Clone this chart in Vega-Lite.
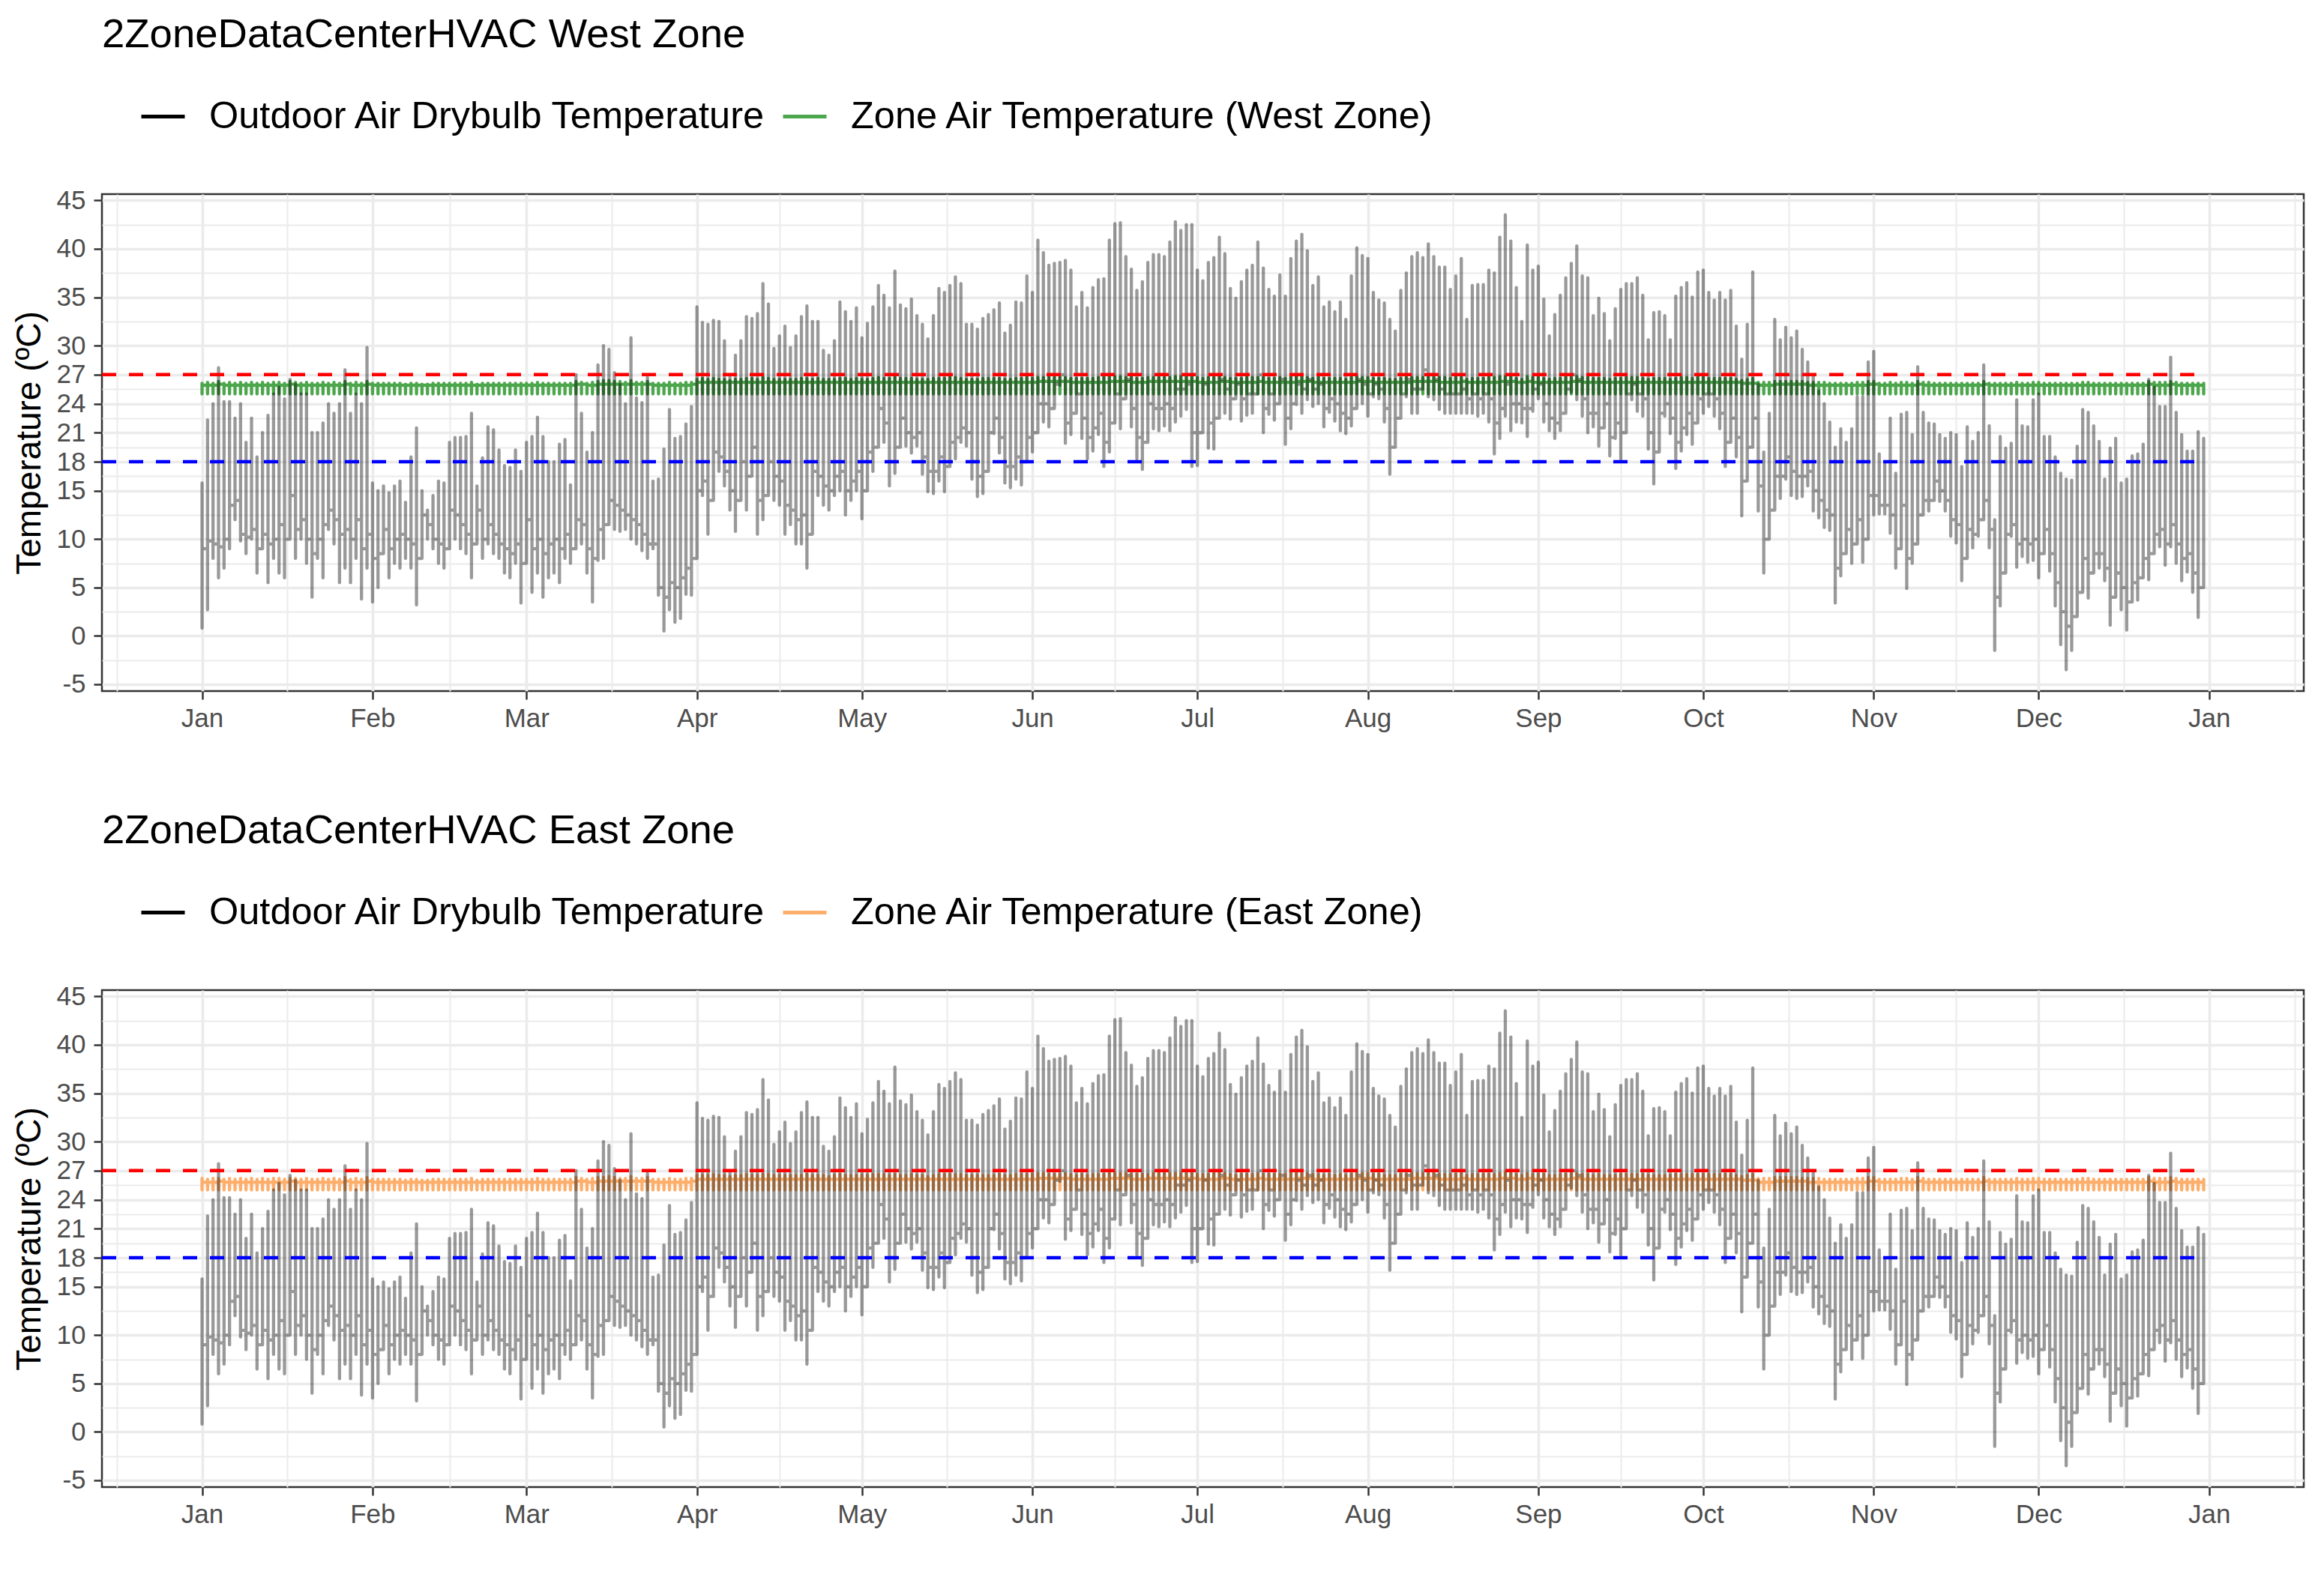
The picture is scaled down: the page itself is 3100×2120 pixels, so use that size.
{
  "$schema": "https://vega.github.io/schema/vega-lite/v6.json",
  "background": "white",
  "padding": {"left": 14, "top": 17, "right": 10, "bottom": 10},
  "config": {
    "font": "Liberation Sans",
    "view": {"stroke": "#333333", "strokeWidth": 2.5},
    "axis": {
      "domain": false,
      "gridColor": "#ebebeb",
      "tickColor": "#333333",
      "tickWidth": 2.5,
      "tickSize": 11,
      "labelColor": "#4d4d4d",
      "labelFont": "Liberation Sans",
      "labelFontSize": 35,
      "labelOverlap": false,
      "titleFont": "Liberation Sans",
      "titleFontSize": 46,
      "titleFontWeight": "normal",
      "titleColor": "black"
    },
    "legend": {
      "orient": "none",
      "legendX": 50,
      "legendY": -135,
      "direction": "horizontal",
      "title": null,
      "symbolType": "stroke",
      "symbolSize": 3364,
      "symbolStrokeWidth": 5,
      "symbolOpacity": 1,
      "labelFont": "Liberation Sans",
      "labelFontSize": 50.5,
      "labelColor": "black",
      "labelOffset": 30,
      "columnPadding": 11,
      "labelLimit": 2000,
      "padding": 0
    },
    "title": {
      "font": "Liberation Sans",
      "fontSize": 54.5,
      "fontWeight": "normal",
      "color": "black",
      "anchor": "start",
      "frame": "group",
      "offset": 50
    }
  },
  "datasets": {
    "hvac": [
{"day":0,"lo":0.8,"hi":15.8,"end":9,"wlo":25,"whi":26.1,"wend":25.9,"elo":25,"ehi":26.2,"eend":25.8},
{"day":1,"lo":2.7,"hi":22.3,"end":9.8,"wlo":25,"whi":26.2,"wend":25.9,"elo":25,"ehi":26.1,"eend":25.8},
{"day":2,"lo":8,"hi":24,"end":9.5,"wlo":25,"whi":26.1,"wend":25.9,"elo":25,"ehi":26.2,"eend":25.8},
{"day":3,"lo":6,"hi":27.7,"end":9.2,"wlo":25,"whi":26.3,"wend":26,"elo":25,"ehi":26.2,"eend":25.9},
{"day":4,"lo":7,"hi":24.2,"end":10,"wlo":25,"whi":26.1,"wend":25.9,"elo":25,"ehi":26.1,"eend":25.8},
{"day":5,"lo":9,"hi":24.2,"end":13.5,"wlo":25,"whi":26.2,"wend":25.9,"elo":25,"ehi":26.2,"eend":25.8},
{"day":6,"lo":12,"hi":22.5,"end":14,"wlo":25,"whi":26.1,"wend":25.9,"elo":25,"ehi":26.1,"eend":25.8},
{"day":7,"lo":9.8,"hi":24,"end":10.5,"wlo":25,"whi":26.2,"wend":25.9,"elo":25,"ehi":26.2,"eend":25.8},
{"day":8,"lo":8.5,"hi":20,"end":10.2,"wlo":25,"whi":26.1,"wend":25.9,"elo":25,"ehi":26.1,"eend":25.8},
{"day":9,"lo":10,"hi":22.5,"end":11,"wlo":25,"whi":26.2,"wend":25.9,"elo":25,"ehi":26.2,"eend":25.8},
{"day":10,"lo":6.5,"hi":18.5,"end":9,"wlo":25,"whi":26.1,"wend":25.9,"elo":25,"ehi":26.1,"eend":25.8},
{"day":11,"lo":9,"hi":21,"end":10.5,"wlo":25,"whi":26.2,"wend":25.9,"elo":25,"ehi":26.2,"eend":25.8},
{"day":12,"lo":5.5,"hi":22.8,"end":9.5,"wlo":25,"whi":26.1,"wend":25.9,"elo":25,"ehi":26.1,"eend":25.8},
{"day":13,"lo":8,"hi":25,"end":10,"wlo":25,"whi":26.2,"wend":25.9,"elo":25,"ehi":26.2,"eend":25.8},
{"day":14,"lo":6.5,"hi":25.7,"end":11.5,"wlo":25,"whi":26.2,"wend":25.9,"elo":25,"ehi":26.2,"eend":25.8},
{"day":15,"lo":6,"hi":24.5,"end":10,"wlo":25,"whi":26.1,"wend":25.9,"elo":25,"ehi":26.1,"eend":25.8},
{"day":16,"lo":11,"hi":26.5,"end":14.5,"wlo":25,"whi":26.3,"wend":26,"elo":25,"ehi":26.2,"eend":25.9},
{"day":17,"lo":8,"hi":26,"end":11,"wlo":25,"whi":26.2,"wend":25.9,"elo":25,"ehi":26.2,"eend":25.8},
{"day":18,"lo":10,"hi":25,"end":12,"wlo":25,"whi":26.1,"wend":25.9,"elo":25,"ehi":26.1,"eend":25.8},
{"day":19,"lo":7.5,"hi":25,"end":10,"wlo":25,"whi":26.2,"wend":25.9,"elo":25,"ehi":26.2,"eend":25.8},
{"day":20,"lo":4,"hi":21,"end":8.5,"wlo":25,"whi":26.1,"wend":25.9,"elo":25,"ehi":26.1,"eend":25.8},
{"day":21,"lo":8,"hi":21,"end":10,"wlo":25,"whi":26.1,"wend":25.9,"elo":25,"ehi":26.1,"eend":25.8},
{"day":22,"lo":6,"hi":22,"end":11.5,"wlo":25,"whi":26.2,"wend":25.9,"elo":25,"ehi":26.2,"eend":25.8},
{"day":23,"lo":11,"hi":24,"end":13,"wlo":25,"whi":26.1,"wend":25.9,"elo":25,"ehi":26.1,"eend":25.8},
{"day":24,"lo":9.5,"hi":23,"end":12,"wlo":25,"whi":26.2,"wend":25.9,"elo":25,"ehi":26.2,"eend":25.8},
{"day":25,"lo":5.5,"hi":24,"end":10.5,"wlo":25,"whi":26.1,"wend":25.9,"elo":25,"ehi":26.1,"eend":25.8},
{"day":26,"lo":7,"hi":27.5,"end":11,"wlo":25,"whi":26.3,"wend":26,"elo":25,"ehi":26.3,"eend":25.9},
{"day":27,"lo":5.5,"hi":23,"end":10,"wlo":25,"whi":26.1,"wend":25.9,"elo":25,"ehi":26.1,"eend":25.8},
{"day":28,"lo":8,"hi":25,"end":12,"wlo":25,"whi":26.2,"wend":25.9,"elo":25,"ehi":26.2,"eend":25.8},
{"day":29,"lo":3.8,"hi":24,"end":9,"wlo":25,"whi":26.1,"wend":25.9,"elo":25,"ehi":26.1,"eend":25.8},
{"day":30,"lo":7,"hi":29.8,"end":10.5,"wlo":25,"whi":26.3,"wend":26,"elo":25,"ehi":26.3,"eend":25.9},
{"day":31,"lo":3.5,"hi":15.8,"end":8,"wlo":25,"whi":26.1,"wend":25.9,"elo":25,"ehi":26.1,"eend":25.8},
{"day":32,"lo":5,"hi":15,"end":8.5,"wlo":25,"whi":26.1,"wend":25.9,"elo":25,"ehi":26.1,"eend":25.8},
{"day":33,"lo":9.5,"hi":15.5,"end":11,"wlo":25,"whi":26.1,"wend":25.9,"elo":25,"ehi":26.1,"eend":25.8},
{"day":34,"lo":6,"hi":14.8,"end":9,"wlo":25,"whi":26.1,"wend":25.9,"elo":25,"ehi":26.1,"eend":25.8},
{"day":35,"lo":7.5,"hi":15.5,"end":10,"wlo":25,"whi":26.1,"wend":25.9,"elo":25,"ehi":26.1,"eend":25.8},
{"day":36,"lo":7,"hi":16,"end":10.5,"wlo":25,"whi":26.1,"wend":25.9,"elo":25,"ehi":26.1,"eend":25.8},
{"day":37,"lo":8,"hi":13.8,"end":10,"wlo":25,"whi":26,"wend":25.9,"elo":25,"ehi":26,"eend":25.8},
{"day":38,"lo":7,"hi":18.5,"end":9.5,"wlo":25,"whi":26.1,"wend":25.9,"elo":25,"ehi":26.1,"eend":25.8},
{"day":39,"lo":3.2,"hi":21.5,"end":8,"wlo":25,"whi":26.1,"wend":25.9,"elo":25,"ehi":26.1,"eend":25.8},
{"day":40,"lo":11,"hi":15,"end":12.5,"wlo":25,"whi":26,"wend":25.9,"elo":25,"ehi":26,"eend":25.8},
{"day":41,"lo":10,"hi":13,"end":11.5,"wlo":25,"whi":26,"wend":25.9,"elo":25,"ehi":26,"eend":25.8},
{"day":42,"lo":9,"hi":14.5,"end":10,"wlo":25,"whi":26.1,"wend":25.9,"elo":25,"ehi":26.1,"eend":25.8},
{"day":43,"lo":7.5,"hi":16,"end":9.5,"wlo":25,"whi":26.1,"wend":25.9,"elo":25,"ehi":26.1,"eend":25.8},
{"day":44,"lo":7,"hi":15.8,"end":9,"wlo":25,"whi":26.1,"wend":25.9,"elo":25,"ehi":26.1,"eend":25.8},
{"day":45,"lo":11.5,"hi":20,"end":13,"wlo":25,"whi":26.1,"wend":25.9,"elo":25,"ehi":26.1,"eend":25.8},
{"day":46,"lo":10,"hi":20.5,"end":12.5,"wlo":25,"whi":26.1,"wend":25.9,"elo":25,"ehi":26.1,"eend":25.8},
{"day":47,"lo":9,"hi":20.5,"end":11.5,"wlo":25,"whi":26.1,"wend":25.9,"elo":25,"ehi":26.1,"eend":25.8},
{"day":48,"lo":8.5,"hi":20.6,"end":10.5,"wlo":25,"whi":26.1,"wend":25.9,"elo":25,"ehi":26.1,"eend":25.8},
{"day":49,"lo":6,"hi":23,"end":9.5,"wlo":25,"whi":26.2,"wend":25.9,"elo":25,"ehi":26.2,"eend":25.8},
{"day":50,"lo":12,"hi":15.5,"end":13,"wlo":25,"whi":26,"wend":25.9,"elo":25,"ehi":26,"eend":25.8},
{"day":51,"lo":8,"hi":18.4,"end":10,"wlo":25,"whi":26.1,"wend":25.9,"elo":25,"ehi":26.1,"eend":25.8},
{"day":52,"lo":9.5,"hi":21.6,"end":11.5,"wlo":25,"whi":26.1,"wend":25.9,"elo":25,"ehi":26.1,"eend":25.8},
{"day":53,"lo":8.5,"hi":21.3,"end":10.5,"wlo":25,"whi":26.1,"wend":25.9,"elo":25,"ehi":26.1,"eend":25.8},
{"day":54,"lo":8,"hi":19.2,"end":9.5,"wlo":25,"whi":26.1,"wend":25.9,"elo":25,"ehi":26.1,"eend":25.8},
{"day":55,"lo":6.5,"hi":17.6,"end":9,"wlo":25,"whi":26.1,"wend":25.9,"elo":25,"ehi":26.1,"eend":25.8},
{"day":56,"lo":6,"hi":17.4,"end":8.5,"wlo":25,"whi":26.1,"wend":25.9,"elo":25,"ehi":26.1,"eend":25.8},
{"day":57,"lo":7.5,"hi":19.2,"end":9.5,"wlo":25,"whi":26.1,"wend":25.9,"elo":25,"ehi":26.1,"eend":25.8},
{"day":58,"lo":3.4,"hi":17,"end":7.5,"wlo":25,"whi":26.1,"wend":25.9,"elo":25,"ehi":26.1,"eend":25.8},
{"day":59,"lo":11,"hi":20,"end":12,"wlo":25,"whi":26.1,"wend":25.9,"elo":25,"ehi":26.1,"eend":25.8},
{"day":60,"lo":4.5,"hi":20.6,"end":9,"wlo":25,"whi":26.1,"wend":25.9,"elo":25,"ehi":26.1,"eend":25.8},
{"day":61,"lo":6.5,"hi":22.6,"end":10,"wlo":25,"whi":26.2,"wend":25.9,"elo":25,"ehi":26.2,"eend":25.8},
{"day":62,"lo":4,"hi":20.6,"end":8.5,"wlo":25,"whi":26.1,"wend":25.9,"elo":25,"ehi":26.1,"eend":25.8},
{"day":63,"lo":6,"hi":18,"end":9.5,"wlo":25,"whi":26.1,"wend":25.9,"elo":25,"ehi":26.1,"eend":25.8},
{"day":64,"lo":6.5,"hi":18,"end":10,"wlo":25,"whi":26.1,"wend":25.9,"elo":25,"ehi":26.1,"eend":25.8},
{"day":65,"lo":5.5,"hi":19.8,"end":9,"wlo":25,"whi":26.1,"wend":25.9,"elo":25,"ehi":26.1,"eend":25.8},
{"day":66,"lo":8,"hi":20.3,"end":10.5,"wlo":25,"whi":26.1,"wend":25.9,"elo":25,"ehi":26.1,"eend":25.8},
{"day":67,"lo":7.5,"hi":15.6,"end":9,"wlo":25,"whi":26.1,"wend":25.9,"elo":25,"ehi":26.1,"eend":25.8},
{"day":68,"lo":10.5,"hi":27,"end":12,"wlo":25,"whi":26.3,"wend":26,"elo":25,"ehi":26.3,"eend":25.9},
{"day":69,"lo":9.5,"hi":23,"end":11.5,"wlo":25,"whi":26.2,"wend":26,"elo":25,"ehi":26.2,"eend":25.9},
{"day":70,"lo":6.5,"hi":19,"end":9,"wlo":25,"whi":26.1,"wend":25.9,"elo":25,"ehi":26.1,"eend":25.8},
{"day":71,"lo":3.5,"hi":21,"end":8,"wlo":25,"whi":26.2,"wend":25.9,"elo":25,"ehi":26.2,"eend":25.8},
{"day":72,"lo":7.8,"hi":28,"end":11,"wlo":25,"whi":26.3,"wend":26,"elo":25,"ehi":26.3,"eend":25.9},
{"day":73,"lo":8,"hi":30,"end":11.5,"wlo":25,"whi":26.4,"wend":26,"elo":25,"ehi":26.3,"eend":25.9},
{"day":74,"lo":12.5,"hi":29.6,"end":14,"wlo":25,"whi":26.4,"wend":26,"elo":25,"ehi":26.4,"eend":25.9},
{"day":75,"lo":11,"hi":27.2,"end":13.5,"wlo":25,"whi":26.3,"wend":26,"elo":25,"ehi":26.3,"eend":25.9},
{"day":76,"lo":10.8,"hi":26,"end":13,"wlo":25,"whi":26.3,"wend":26,"elo":25,"ehi":26.2,"eend":25.9},
{"day":77,"lo":11,"hi":24,"end":12.5,"wlo":25,"whi":26.2,"wend":26,"elo":25,"ehi":26.2,"eend":25.9},
{"day":78,"lo":10,"hi":30.8,"end":12,"wlo":25,"whi":26.4,"wend":26,"elo":25,"ehi":26.4,"eend":25.9},
{"day":79,"lo":9.5,"hi":24.6,"end":11.5,"wlo":25,"whi":26.2,"wend":26,"elo":25,"ehi":26.2,"eend":25.9},
{"day":80,"lo":8.8,"hi":24.1,"end":10.5,"wlo":25,"whi":26.2,"wend":26,"elo":25,"ehi":26.2,"eend":25.9},
{"day":81,"lo":8,"hi":26.7,"end":9.5,"wlo":25,"whi":26.3,"wend":26,"elo":25,"ehi":26.3,"eend":25.9},
{"day":82,"lo":9,"hi":16,"end":9.5,"wlo":25,"whi":26.1,"wend":25.9,"elo":25,"ehi":26.1,"eend":25.8},
{"day":83,"lo":4.2,"hi":16.2,"end":5,"wlo":25,"whi":26.1,"wend":25.9,"elo":25,"ehi":26.1,"eend":25.8},
{"day":84,"lo":0.5,"hi":19.3,"end":4,"wlo":25,"whi":26.1,"wend":25.9,"elo":25,"ehi":26.1,"eend":25.8},
{"day":85,"lo":2.7,"hi":23.4,"end":5.5,"wlo":25,"whi":26.2,"wend":25.9,"elo":25,"ehi":26.2,"eend":25.8},
{"day":86,"lo":1.4,"hi":20.4,"end":5,"wlo":25,"whi":26.1,"wend":25.9,"elo":25,"ehi":26.1,"eend":25.8},
{"day":87,"lo":1.8,"hi":20.6,"end":6,"wlo":25,"whi":26.1,"wend":25.9,"elo":25,"ehi":26.1,"eend":25.8},
{"day":88,"lo":4.3,"hi":21.9,"end":7,"wlo":25,"whi":26.2,"wend":25.9,"elo":25,"ehi":26.2,"eend":25.8},
{"day":89,"lo":4.2,"hi":23.7,"end":8,"wlo":25,"whi":26.2,"wend":26,"elo":25,"ehi":26.2,"eend":25.9},
{"day":90,"lo":13.5,"hi":34,"end":15,"wlo":25,"whi":26.5,"wend":26.2,"elo":25,"ehi":26.5,"eend":26.1},
{"day":91,"lo":14.5,"hi":32.4,"end":16,"wlo":25,"whi":26.6,"wend":26.2,"elo":25,"ehi":26.5,"eend":26.1},
{"day":92,"lo":10.5,"hi":32.2,"end":14,"wlo":25,"whi":26.5,"wend":26.2,"elo":25,"ehi":26.5,"eend":26.1},
{"day":93,"lo":17.5,"hi":32.6,"end":19,"wlo":25,"whi":26.6,"wend":26.2,"elo":25,"ehi":26.6,"eend":26.1},
{"day":94,"lo":17,"hi":32.5,"end":18.5,"wlo":25,"whi":26.5,"wend":26.2,"elo":25,"ehi":26.5,"eend":26.1},
{"day":95,"lo":15.5,"hi":30.5,"end":17,"wlo":25,"whi":26.5,"wend":26.2,"elo":25,"ehi":26.5,"eend":26.1},
{"day":96,"lo":13,"hi":27,"end":15,"wlo":25,"whi":26.4,"wend":26.2,"elo":25,"ehi":26.4,"eend":26.1},
{"day":97,"lo":10.8,"hi":29,"end":14,"wlo":25,"whi":26.5,"wend":26.2,"elo":25,"ehi":26.5,"eend":26.1},
{"day":98,"lo":16,"hi":30.5,"end":18,"wlo":25,"whi":26.5,"wend":26.2,"elo":25,"ehi":26.5,"eend":26.1},
{"day":99,"lo":13,"hi":33,"end":16.5,"wlo":25,"whi":26.6,"wend":26.2,"elo":25,"ehi":26.6,"eend":26.1},
{"day":100,"lo":17.8,"hi":32.8,"end":19.5,"wlo":25,"whi":26.6,"wend":26.2,"elo":25,"ehi":26.5,"eend":26.1},
{"day":101,"lo":10.5,"hi":33.3,"end":14,"wlo":25,"whi":26.5,"wend":26.2,"elo":25,"ehi":26.5,"eend":26.1},
{"day":102,"lo":12,"hi":36.4,"end":14.5,"wlo":25,"whi":26.7,"wend":26.2,"elo":25,"ehi":26.6,"eend":26.1},
{"day":103,"lo":16.2,"hi":34.3,"end":18,"wlo":25,"whi":26.6,"wend":26.2,"elo":25,"ehi":26.6,"eend":26.1},
{"day":104,"lo":14,"hi":29.7,"end":16.5,"wlo":25,"whi":26.5,"wend":26.2,"elo":25,"ehi":26.5,"eend":26.1},
{"day":105,"lo":13.5,"hi":31,"end":16,"wlo":25,"whi":26.5,"wend":26.2,"elo":25,"ehi":26.5,"eend":26.1},
{"day":106,"lo":10.5,"hi":32,"end":13.5,"wlo":25,"whi":26.5,"wend":26.2,"elo":25,"ehi":26.5,"eend":26.1},
{"day":107,"lo":11.5,"hi":29.8,"end":13,"wlo":25,"whi":26.5,"wend":26.2,"elo":25,"ehi":26.5,"eend":26.1},
{"day":108,"lo":9.5,"hi":31,"end":12,"wlo":25,"whi":26.5,"wend":26.2,"elo":25,"ehi":26.5,"eend":26.1},
{"day":109,"lo":9.5,"hi":33,"end":12.5,"wlo":25,"whi":26.6,"wend":26.2,"elo":25,"ehi":26.5,"eend":26.1},
{"day":110,"lo":7,"hi":34.1,"end":10.5,"wlo":25,"whi":26.6,"wend":26.2,"elo":25,"ehi":26.6,"eend":26.1},
{"day":111,"lo":15,"hi":32.5,"end":17,"wlo":25,"whi":26.5,"wend":26.2,"elo":25,"ehi":26.5,"eend":26.1},
{"day":112,"lo":14.5,"hi":32.5,"end":16.5,"wlo":25,"whi":26.6,"wend":26.2,"elo":25,"ehi":26.5,"eend":26.1},
{"day":113,"lo":13.5,"hi":29.5,"end":15.5,"wlo":25,"whi":26.5,"wend":26.2,"elo":25,"ehi":26.5,"eend":26.1},
{"day":114,"lo":13,"hi":29,"end":15,"wlo":25,"whi":26.5,"wend":26.2,"elo":25,"ehi":26.4,"eend":26.1},
{"day":115,"lo":14.5,"hi":30.5,"end":16.5,"wlo":25,"whi":26.5,"wend":26.2,"elo":25,"ehi":26.5,"eend":26.1},
{"day":116,"lo":15,"hi":34.5,"end":17,"wlo":25,"whi":26.6,"wend":26.2,"elo":25,"ehi":26.6,"eend":26.1},
{"day":117,"lo":12.5,"hi":33.5,"end":15,"wlo":25,"whi":26.6,"wend":26.2,"elo":25,"ehi":26.5,"eend":26.1},
{"day":118,"lo":14,"hi":32.5,"end":16,"wlo":25,"whi":26.5,"wend":26.2,"elo":25,"ehi":26.5,"eend":26.1},
{"day":119,"lo":15,"hi":33.9,"end":17,"wlo":25,"whi":26.6,"wend":26.2,"elo":25,"ehi":26.5,"eend":26.1},
{"day":120,"lo":12.1,"hi":30.8,"end":15,"wlo":25,"whi":26.5,"wend":26.2,"elo":25,"ehi":26.5,"eend":26.1},
{"day":121,"lo":17.5,"hi":32.3,"end":19,"wlo":25,"whi":26.5,"wend":26.2,"elo":25,"ehi":26.5,"eend":26.1},
{"day":122,"lo":17,"hi":34,"end":19.5,"wlo":25,"whi":26.6,"wend":26.2,"elo":25,"ehi":26.6,"eend":26.1},
{"day":123,"lo":22.1,"hi":36.2,"end":23.5,"wlo":25,"whi":26.7,"wend":26.2,"elo":25,"ehi":26.6,"eend":26.1},
{"day":124,"lo":20,"hi":35.2,"end":22,"wlo":25,"whi":26.6,"wend":26.2,"elo":25,"ehi":26.6,"eend":26.1},
{"day":125,"lo":15.5,"hi":33.9,"end":18,"wlo":25,"whi":26.6,"wend":26.2,"elo":25,"ehi":26.5,"eend":26.1},
{"day":126,"lo":16.8,"hi":37.7,"end":19.5,"wlo":25,"whi":26.7,"wend":26.2,"elo":25,"ehi":26.6,"eend":26.1},
{"day":127,"lo":20.9,"hi":34.2,"end":22.5,"wlo":25,"whi":26.6,"wend":26.2,"elo":25,"ehi":26.5,"eend":26.1},
{"day":128,"lo":19.6,"hi":33.8,"end":21,"wlo":25,"whi":26.6,"wend":26.2,"elo":25,"ehi":26.5,"eend":26.1},
{"day":129,"lo":18.9,"hi":34.8,"end":20.5,"wlo":25,"whi":26.6,"wend":26.2,"elo":25,"ehi":26.6,"eend":26.1},
{"day":130,"lo":19.6,"hi":33.1,"end":21,"wlo":25,"whi":26.5,"wend":26.2,"elo":25,"ehi":26.5,"eend":26.1},
{"day":131,"lo":16.7,"hi":32.2,"end":18.5,"wlo":25,"whi":26.5,"wend":26.2,"elo":25,"ehi":26.5,"eend":26.1},
{"day":132,"lo":14.9,"hi":30.7,"end":17,"wlo":25,"whi":26.5,"wend":26.2,"elo":25,"ehi":26.4,"eend":26.1},
{"day":133,"lo":14.7,"hi":33.1,"end":17,"wlo":25,"whi":26.6,"wend":26.2,"elo":25,"ehi":26.5,"eend":26.1},
{"day":134,"lo":16,"hi":35.9,"end":18.5,"wlo":25,"whi":26.6,"wend":26.2,"elo":25,"ehi":26.6,"eend":26.1},
{"day":135,"lo":14.9,"hi":35.5,"end":17.5,"wlo":25,"whi":26.6,"wend":26.2,"elo":25,"ehi":26.6,"eend":26.1},
{"day":136,"lo":18,"hi":36.2,"end":20,"wlo":25,"whi":26.7,"wend":26.2,"elo":25,"ehi":26.6,"eend":26.1},
{"day":137,"lo":18.3,"hi":37.1,"end":20.5,"wlo":25,"whi":26.7,"wend":26.2,"elo":25,"ehi":26.6,"eend":26.1},
{"day":138,"lo":20,"hi":36.4,"end":21.5,"wlo":25,"whi":26.6,"wend":26.2,"elo":25,"ehi":26.6,"eend":26.1},
{"day":139,"lo":19.6,"hi":32.2,"end":21,"wlo":25,"whi":26.5,"wend":26.2,"elo":25,"ehi":26.5,"eend":26.1},
{"day":140,"lo":16.2,"hi":32.2,"end":18,"wlo":25,"whi":26.5,"wend":26.2,"elo":25,"ehi":26.5,"eend":26.1},
{"day":141,"lo":14.4,"hi":31.7,"end":16.5,"wlo":25,"whi":26.5,"wend":26.2,"elo":25,"ehi":26.5,"eend":26.1},
{"day":142,"lo":14.7,"hi":32.8,"end":17,"wlo":25,"whi":26.6,"wend":26.2,"elo":25,"ehi":26.5,"eend":26.1},
{"day":143,"lo":19.6,"hi":33.2,"end":21,"wlo":25,"whi":26.6,"wend":26.2,"elo":25,"ehi":26.5,"eend":26.1},
{"day":144,"lo":20.9,"hi":33.7,"end":22.5,"wlo":25,"whi":26.6,"wend":26.2,"elo":25,"ehi":26.5,"eend":26.1},
{"day":145,"lo":18.9,"hi":34.4,"end":20.5,"wlo":25,"whi":26.6,"wend":26.2,"elo":25,"ehi":26.6,"eend":26.1},
{"day":146,"lo":15.8,"hi":31.3,"end":17.5,"wlo":25,"whi":26.5,"wend":26.2,"elo":25,"ehi":26.5,"eend":26.1},
{"day":147,"lo":15.3,"hi":32.1,"end":17.5,"wlo":25,"whi":26.5,"wend":26.2,"elo":25,"ehi":26.5,"eend":26.1},
{"day":148,"lo":16.2,"hi":34.5,"end":18.5,"wlo":25,"whi":26.6,"wend":26.2,"elo":25,"ehi":26.6,"eend":26.1},
{"day":149,"lo":15.6,"hi":34.4,"end":18,"wlo":25,"whi":26.6,"wend":26.2,"elo":25,"ehi":26.6,"eend":26.1},
{"day":150,"lo":18.1,"hi":37.2,"end":20.5,"wlo":25,"whi":26.7,"wend":26.2,"elo":25,"ehi":26.6,"eend":26.1},
{"day":151,"lo":19,"hi":35.5,"end":21,"wlo":25,"whi":26.6,"wend":26.2,"elo":25,"ehi":26.6,"eend":26.1},
{"day":152,"lo":21.7,"hi":40.9,"end":24,"wlo":25,"whi":26.7,"wend":26.3,"elo":25,"ehi":26.7,"eend":26.2},
{"day":153,"lo":22.1,"hi":39.6,"end":24,"wlo":25,"whi":26.7,"wend":26.3,"elo":25,"ehi":26.7,"eend":26.2},
{"day":154,"lo":21.6,"hi":38.3,"end":23.5,"wlo":25,"whi":26.7,"wend":26.3,"elo":25,"ehi":26.6,"eend":26.2},
{"day":155,"lo":24.7,"hi":38.5,"end":26,"wlo":25,"whi":26.7,"wend":26.3,"elo":25,"ehi":26.6,"eend":26.2},
{"day":156,"lo":25.9,"hi":38.6,"end":27,"wlo":25,"whi":26.7,"wend":26.3,"elo":25,"ehi":26.6,"eend":26.2},
{"day":157,"lo":19.9,"hi":38.8,"end":22,"wlo":25,"whi":26.7,"wend":26.3,"elo":25,"ehi":26.7,"eend":26.2},
{"day":158,"lo":20.8,"hi":37.8,"end":23,"wlo":25,"whi":26.6,"wend":26.2,"elo":25,"ehi":26.6,"eend":26.1},
{"day":159,"lo":24,"hi":34,"end":25,"wlo":25,"whi":26.6,"wend":26.2,"elo":25,"ehi":26.5,"eend":26.1},
{"day":160,"lo":20.4,"hi":35.5,"end":22.5,"wlo":25,"whi":26.6,"wend":26.2,"elo":25,"ehi":26.6,"eend":26.1},
{"day":161,"lo":18.3,"hi":33.9,"end":20.5,"wlo":25,"whi":26.6,"wend":26.2,"elo":25,"ehi":26.5,"eend":26.1},
{"day":162,"lo":19.1,"hi":36,"end":21.5,"wlo":25,"whi":26.6,"wend":26.2,"elo":25,"ehi":26.6,"eend":26.1},
{"day":163,"lo":20.8,"hi":36.8,"end":23,"wlo":25,"whi":26.7,"wend":26.2,"elo":25,"ehi":26.6,"eend":26.1},
{"day":164,"lo":17.5,"hi":36.9,"end":20,"wlo":25,"whi":26.7,"wend":26.2,"elo":25,"ehi":26.6,"eend":26.1},
{"day":165,"lo":19,"hi":40.9,"end":22,"wlo":25,"whi":26.7,"wend":26.3,"elo":25,"ehi":26.7,"eend":26.2},
{"day":166,"lo":22.1,"hi":42.6,"end":25,"wlo":25,"whi":26.8,"wend":26.3,"elo":25,"ehi":26.7,"eend":26.2},
{"day":167,"lo":21.4,"hi":42.7,"end":24.5,"wlo":25,"whi":26.8,"wend":26.3,"elo":25,"ehi":26.7,"eend":26.2},
{"day":168,"lo":25.3,"hi":39.2,"end":26.5,"wlo":25,"whi":26.7,"wend":26.3,"elo":25,"ehi":26.7,"eend":26.2},
{"day":169,"lo":21.6,"hi":37.9,"end":23.5,"wlo":25,"whi":26.7,"wend":26.2,"elo":25,"ehi":26.6,"eend":26.1},
{"day":170,"lo":18.3,"hi":35.7,"end":20.5,"wlo":25,"whi":26.6,"wend":26.2,"elo":25,"ehi":26.6,"eend":26.1},
{"day":171,"lo":17.2,"hi":36.6,"end":20,"wlo":25,"whi":26.6,"wend":26.2,"elo":25,"ehi":26.6,"eend":26.1},
{"day":172,"lo":22.1,"hi":38.6,"end":24,"wlo":25,"whi":26.7,"wend":26.3,"elo":25,"ehi":26.6,"eend":26.2},
{"day":173,"lo":21.4,"hi":39.4,"end":23.5,"wlo":25,"whi":26.7,"wend":26.3,"elo":25,"ehi":26.7,"eend":26.2},
{"day":174,"lo":21.2,"hi":39.4,"end":23.5,"wlo":25,"whi":26.7,"wend":26.3,"elo":25,"ehi":26.7,"eend":26.2},
{"day":175,"lo":21.7,"hi":39.2,"end":24,"wlo":25,"whi":26.7,"wend":26.3,"elo":25,"ehi":26.7,"eend":26.2},
{"day":176,"lo":21.2,"hi":40.7,"end":23.5,"wlo":25,"whi":26.7,"wend":26.3,"elo":25,"ehi":26.7,"eend":26.2},
{"day":177,"lo":22.1,"hi":42.8,"end":25.5,"wlo":25,"whi":26.8,"wend":26.3,"elo":25,"ehi":26.7,"eend":26.2},
{"day":178,"lo":22.7,"hi":41.9,"end":25.5,"wlo":25,"whi":26.8,"wend":26.3,"elo":25,"ehi":26.7,"eend":26.2},
{"day":179,"lo":23.4,"hi":42.5,"end":26,"wlo":25,"whi":26.8,"wend":26.3,"elo":25,"ehi":26.7,"eend":26.2},
{"day":180,"lo":17.5,"hi":42.5,"end":21,"wlo":25,"whi":26.8,"wend":26.3,"elo":25,"ehi":26.7,"eend":26.2},
{"day":181,"lo":17.6,"hi":37.8,"end":21,"wlo":25,"whi":26.7,"wend":26.2,"elo":25,"ehi":26.6,"eend":26.1},
{"day":182,"lo":24.7,"hi":36.7,"end":26,"wlo":25,"whi":26.6,"wend":26.2,"elo":25,"ehi":26.6,"eend":26.1},
{"day":183,"lo":19.4,"hi":38.6,"end":22,"wlo":25,"whi":26.7,"wend":26.2,"elo":25,"ehi":26.6,"eend":26.1},
{"day":184,"lo":19.3,"hi":39.1,"end":22.5,"wlo":25,"whi":26.7,"wend":26.2,"elo":25,"ehi":26.7,"eend":26.1},
{"day":185,"lo":24,"hi":41.2,"end":26.5,"wlo":25,"whi":26.8,"wend":26.3,"elo":25,"ehi":26.7,"eend":26.2},
{"day":186,"lo":23,"hi":39.5,"end":25.5,"wlo":25,"whi":26.7,"wend":26.3,"elo":25,"ehi":26.7,"eend":26.2},
{"day":187,"lo":22.4,"hi":35.9,"end":24.5,"wlo":25,"whi":26.6,"wend":26.2,"elo":25,"ehi":26.6,"eend":26.1},
{"day":188,"lo":24.7,"hi":34.9,"end":26,"wlo":25,"whi":26.6,"wend":26.2,"elo":25,"ehi":26.5,"eend":26.1},
{"day":189,"lo":22.2,"hi":36.6,"end":24.5,"wlo":25,"whi":26.6,"wend":26.2,"elo":25,"ehi":26.6,"eend":26.1},
{"day":190,"lo":22.8,"hi":37.8,"end":25,"wlo":25,"whi":26.7,"wend":26.2,"elo":25,"ehi":26.6,"eend":26.1},
{"day":191,"lo":23,"hi":38.3,"end":25,"wlo":25,"whi":26.7,"wend":26.2,"elo":25,"ehi":26.6,"eend":26.1},
{"day":192,"lo":25.3,"hi":40.7,"end":27,"wlo":25,"whi":26.7,"wend":26.3,"elo":25,"ehi":26.7,"eend":26.2},
{"day":193,"lo":21,"hi":38,"end":23.5,"wlo":25,"whi":26.7,"wend":26.2,"elo":25,"ehi":26.6,"eend":26.1},
{"day":194,"lo":22.9,"hi":35.8,"end":25,"wlo":25,"whi":26.6,"wend":26.2,"elo":25,"ehi":26.6,"eend":26.1},
{"day":195,"lo":22.3,"hi":35.1,"end":24,"wlo":25,"whi":26.6,"wend":26.2,"elo":25,"ehi":26.6,"eend":26.1},
{"day":196,"lo":24.9,"hi":37.3,"end":26.5,"wlo":25,"whi":26.7,"wend":26.2,"elo":25,"ehi":26.6,"eend":26.1},
{"day":197,"lo":19.8,"hi":35.1,"end":22.5,"wlo":25,"whi":26.6,"wend":26.2,"elo":25,"ehi":26.6,"eend":26.1},
{"day":198,"lo":21.4,"hi":39,"end":24,"wlo":25,"whi":26.7,"wend":26.2,"elo":25,"ehi":26.7,"eend":26.1},
{"day":199,"lo":23.9,"hi":40.8,"end":26,"wlo":25,"whi":26.8,"wend":26.3,"elo":25,"ehi":26.7,"eend":26.2},
{"day":200,"lo":23,"hi":41.5,"end":25.5,"wlo":25,"whi":26.8,"wend":26.3,"elo":25,"ehi":26.7,"eend":26.2},
{"day":201,"lo":24.4,"hi":39.8,"end":26.5,"wlo":25,"whi":26.7,"wend":26.3,"elo":25,"ehi":26.7,"eend":26.2},
{"day":202,"lo":23.7,"hi":36.2,"end":25.5,"wlo":25,"whi":26.6,"wend":26.2,"elo":25,"ehi":26.6,"eend":26.1},
{"day":203,"lo":24,"hi":37.1,"end":26,"wlo":25,"whi":26.7,"wend":26.2,"elo":25,"ehi":26.6,"eend":26.1},
{"day":204,"lo":21.6,"hi":34,"end":23.5,"wlo":25,"whi":26.6,"wend":26.2,"elo":25,"ehi":26.5,"eend":26.1},
{"day":205,"lo":23.1,"hi":34.5,"end":24.5,"wlo":25,"whi":26.6,"wend":26.2,"elo":25,"ehi":26.6,"eend":26.1},
{"day":206,"lo":22.2,"hi":33.5,"end":24,"wlo":25,"whi":26.6,"wend":26.2,"elo":25,"ehi":26.5,"eend":26.1},
{"day":207,"lo":21.2,"hi":34.5,"end":23,"wlo":25,"whi":26.6,"wend":26.2,"elo":25,"ehi":26.6,"eend":26.1},
{"day":208,"lo":20.9,"hi":32.7,"end":22.5,"wlo":25,"whi":26.5,"wend":26.2,"elo":25,"ehi":26.5,"eend":26.1},
{"day":209,"lo":21.7,"hi":37.2,"end":23.5,"wlo":25,"whi":26.7,"wend":26.2,"elo":25,"ehi":26.6,"eend":26.1},
{"day":210,"lo":24.4,"hi":40.1,"end":26.5,"wlo":25,"whi":26.8,"wend":26.3,"elo":25,"ehi":26.7,"eend":26.2},
{"day":211,"lo":24,"hi":39.3,"end":26,"wlo":25,"whi":26.7,"wend":26.3,"elo":25,"ehi":26.7,"eend":26.2},
{"day":212,"lo":22.7,"hi":39,"end":25,"wlo":25,"whi":26.7,"wend":26.3,"elo":25,"ehi":26.7,"eend":26.2},
{"day":213,"lo":24.7,"hi":35.5,"end":26,"wlo":25,"whi":26.6,"wend":26.2,"elo":25,"ehi":26.6,"eend":26.1},
{"day":214,"lo":24.5,"hi":34.7,"end":25.5,"wlo":25,"whi":26.6,"wend":26.2,"elo":25,"ehi":26.6,"eend":26.1},
{"day":215,"lo":22.1,"hi":34.4,"end":23.5,"wlo":25,"whi":26.6,"wend":26.2,"elo":25,"ehi":26.5,"eend":26.1},
{"day":216,"lo":16.7,"hi":32.7,"end":19.5,"wlo":25,"whi":26.5,"wend":26.2,"elo":25,"ehi":26.5,"eend":26.1},
{"day":217,"lo":20.8,"hi":31.5,"end":22.5,"wlo":25,"whi":26.5,"wend":26.2,"elo":25,"ehi":26.5,"eend":26.1},
{"day":218,"lo":23,"hi":35.7,"end":25,"wlo":25,"whi":26.6,"wend":26.2,"elo":25,"ehi":26.6,"eend":26.1},
{"day":219,"lo":24.7,"hi":37.5,"end":26.5,"wlo":25,"whi":26.7,"wend":26.2,"elo":25,"ehi":26.6,"eend":26.1},
{"day":220,"lo":23,"hi":39.2,"end":25.5,"wlo":25,"whi":26.7,"wend":26.3,"elo":25,"ehi":26.7,"eend":26.2},
{"day":221,"lo":23,"hi":39.6,"end":25.5,"wlo":25,"whi":26.7,"wend":26.3,"elo":25,"ehi":26.7,"eend":26.2},
{"day":222,"lo":26,"hi":39.1,"end":27.5,"wlo":25,"whi":26.7,"wend":26.3,"elo":25,"ehi":26.7,"eend":26.2},
{"day":223,"lo":24.7,"hi":40.5,"end":27,"wlo":25,"whi":26.8,"wend":26.3,"elo":25,"ehi":26.7,"eend":26.2},
{"day":224,"lo":24.4,"hi":39.2,"end":26.5,"wlo":25,"whi":26.7,"wend":26.3,"elo":25,"ehi":26.7,"eend":26.2},
{"day":225,"lo":23.4,"hi":38.1,"end":25.5,"wlo":25,"whi":26.7,"wend":26.2,"elo":25,"ehi":26.6,"eend":26.1},
{"day":226,"lo":23,"hi":38.1,"end":25,"wlo":25,"whi":26.7,"wend":26.2,"elo":25,"ehi":26.6,"eend":26.1},
{"day":227,"lo":23,"hi":35.8,"end":25,"wlo":25,"whi":26.6,"wend":26.2,"elo":25,"ehi":26.6,"eend":26.1},
{"day":228,"lo":23,"hi":37.2,"end":25,"wlo":25,"whi":26.7,"wend":26.2,"elo":25,"ehi":26.6,"eend":26.1},
{"day":229,"lo":23,"hi":39,"end":25.5,"wlo":25,"whi":26.7,"wend":26.3,"elo":25,"ehi":26.7,"eend":26.2},
{"day":230,"lo":23,"hi":32.7,"end":24.5,"wlo":25,"whi":26.5,"wend":26.2,"elo":25,"ehi":26.5,"eend":26.1},
{"day":231,"lo":23,"hi":36.2,"end":25,"wlo":25,"whi":26.6,"wend":26.2,"elo":25,"ehi":26.6,"eend":26.1},
{"day":232,"lo":22.7,"hi":36.3,"end":24.5,"wlo":25,"whi":26.6,"wend":26.2,"elo":25,"ehi":26.6,"eend":26.1},
{"day":233,"lo":23,"hi":36.3,"end":25,"wlo":25,"whi":26.6,"wend":26.2,"elo":25,"ehi":26.6,"eend":26.1},
{"day":234,"lo":22.1,"hi":37.8,"end":24.5,"wlo":25,"whi":26.7,"wend":26.2,"elo":25,"ehi":26.6,"eend":26.1},
{"day":235,"lo":18.8,"hi":37.5,"end":22,"wlo":25,"whi":26.7,"wend":26.2,"elo":25,"ehi":26.6,"eend":26.1},
{"day":236,"lo":20.4,"hi":41.2,"end":23.5,"wlo":25,"whi":26.8,"wend":26.3,"elo":25,"ehi":26.7,"eend":26.2},
{"day":237,"lo":22.7,"hi":43.5,"end":26,"wlo":25,"whi":26.8,"wend":26.3,"elo":25,"ehi":26.8,"eend":26.2},
{"day":238,"lo":21.2,"hi":40.8,"end":24,"wlo":25,"whi":26.8,"wend":26.3,"elo":25,"ehi":26.7,"eend":26.2},
{"day":239,"lo":22.1,"hi":36,"end":24,"wlo":25,"whi":26.6,"wend":26.2,"elo":25,"ehi":26.6,"eend":26.1},
{"day":240,"lo":22,"hi":32.5,"end":23.5,"wlo":25,"whi":26.5,"wend":26.2,"elo":25,"ehi":26.5,"eend":26.1},
{"day":241,"lo":20.6,"hi":40.4,"end":23.5,"wlo":25,"whi":26.8,"wend":26.3,"elo":25,"ehi":26.7,"eend":26.2},
{"day":242,"lo":23.2,"hi":37.8,"end":25.5,"wlo":25,"whi":26.7,"wend":26.2,"elo":25,"ehi":26.6,"eend":26.1},
{"day":243,"lo":24.5,"hi":38.2,"end":26,"wlo":25,"whi":26.7,"wend":26.2,"elo":25,"ehi":26.6,"eend":26.1},
{"day":244,"lo":22.1,"hi":34.8,"end":24,"wlo":25,"whi":26.6,"wend":26.2,"elo":25,"ehi":26.6,"eend":26.1},
{"day":245,"lo":21.2,"hi":31,"end":22.5,"wlo":25,"whi":26.5,"wend":26.2,"elo":25,"ehi":26.5,"eend":26.1},
{"day":246,"lo":20.4,"hi":33.2,"end":22,"wlo":25,"whi":26.6,"wend":26.2,"elo":25,"ehi":26.5,"eend":26.1},
{"day":247,"lo":21.2,"hi":35.2,"end":23,"wlo":25,"whi":26.6,"wend":26.2,"elo":25,"ehi":26.6,"eend":26.1},
{"day":248,"lo":23.9,"hi":37,"end":25.5,"wlo":25,"whi":26.7,"wend":26.2,"elo":25,"ehi":26.6,"eend":26.1},
{"day":249,"lo":25.2,"hi":38.5,"end":27,"wlo":25,"whi":26.7,"wend":26.3,"elo":25,"ehi":26.7,"eend":26.2},
{"day":250,"lo":24.4,"hi":40.3,"end":26.5,"wlo":25,"whi":26.8,"wend":26.3,"elo":25,"ehi":26.7,"eend":26.2},
{"day":251,"lo":22.7,"hi":37.2,"end":24.5,"wlo":25,"whi":26.7,"wend":26.2,"elo":25,"ehi":26.6,"eend":26.1},
{"day":252,"lo":21,"hi":37,"end":23,"wlo":25,"whi":26.7,"wend":26.2,"elo":25,"ehi":26.6,"eend":26.1},
{"day":253,"lo":21.6,"hi":33.1,"end":23,"wlo":25,"whi":26.6,"wend":26.2,"elo":25,"ehi":26.5,"eend":26.1},
{"day":254,"lo":19.6,"hi":34.9,"end":21.5,"wlo":25,"whi":26.6,"wend":26.2,"elo":25,"ehi":26.6,"eend":26.1},
{"day":255,"lo":22.7,"hi":33.3,"end":24,"wlo":25,"whi":26.6,"wend":26.2,"elo":25,"ehi":26.5,"eend":26.1},
{"day":256,"lo":18.6,"hi":30.5,"end":20.5,"wlo":25,"whi":26.5,"wend":26.2,"elo":25,"ehi":26.5,"eend":26.1},
{"day":257,"lo":20.4,"hi":33.8,"end":22,"wlo":25,"whi":26.6,"wend":26.2,"elo":25,"ehi":26.5,"eend":26.1},
{"day":258,"lo":18.3,"hi":35.8,"end":21,"wlo":25,"whi":26.6,"wend":26.2,"elo":25,"ehi":26.6,"eend":26.1},
{"day":259,"lo":23,"hi":36.4,"end":25,"wlo":25,"whi":26.7,"wend":26.2,"elo":25,"ehi":26.6,"eend":26.1},
{"day":260,"lo":24.4,"hi":36.4,"end":26,"wlo":25,"whi":26.7,"wend":26.2,"elo":25,"ehi":26.6,"eend":26.1},
{"day":261,"lo":23.2,"hi":37,"end":25,"wlo":25,"whi":26.7,"wend":26.2,"elo":25,"ehi":26.6,"eend":26.1},
{"day":262,"lo":22.7,"hi":35.2,"end":24.5,"wlo":25,"whi":26.6,"wend":26.2,"elo":25,"ehi":26.6,"eend":26.1},
{"day":263,"lo":19.3,"hi":30.6,"end":21,"wlo":25,"whi":26.5,"wend":26.2,"elo":25,"ehi":26.5,"eend":26.1},
{"day":264,"lo":15.7,"hi":33.4,"end":19,"wlo":25,"whi":26.6,"wend":26.2,"elo":25,"ehi":26.5,"eend":26.1},
{"day":265,"lo":21.4,"hi":33.5,"end":23,"wlo":25,"whi":26.6,"wend":26.2,"elo":25,"ehi":26.5,"eend":26.1},
{"day":266,"lo":22.7,"hi":33.1,"end":24,"wlo":25,"whi":26.6,"wend":26.2,"elo":25,"ehi":26.5,"eend":26.1},
{"day":267,"lo":20.9,"hi":30.6,"end":22.5,"wlo":25,"whi":26.5,"wend":26.2,"elo":25,"ehi":26.5,"eend":26.1},
{"day":268,"lo":17.3,"hi":35.1,"end":20,"wlo":25,"whi":26.6,"wend":26.2,"elo":25,"ehi":26.6,"eend":26.1},
{"day":269,"lo":19.1,"hi":36,"end":21.5,"wlo":25,"whi":26.7,"wend":26.2,"elo":25,"ehi":26.6,"eend":26.1},
{"day":270,"lo":20.8,"hi":36.5,"end":23,"wlo":25,"whi":26.7,"wend":26.2,"elo":25,"ehi":26.6,"eend":26.1},
{"day":271,"lo":19.8,"hi":35,"end":22,"wlo":25,"whi":26.6,"wend":26.2,"elo":25,"ehi":26.6,"eend":26.1},
{"day":272,"lo":22.7,"hi":37.6,"end":24.5,"wlo":25,"whi":26.7,"wend":26.2,"elo":25,"ehi":26.6,"eend":26.1},
{"day":273,"lo":23,"hi":37.8,"end":25,"wlo":25,"whi":26.7,"wend":26.2,"elo":25,"ehi":26.6,"eend":26.1},
{"day":274,"lo":23.7,"hi":35.5,"end":25,"wlo":25,"whi":26.6,"wend":26.2,"elo":25,"ehi":26.6,"eend":26.1},
{"day":275,"lo":22.7,"hi":34.7,"end":24.5,"wlo":25,"whi":26.6,"wend":26.2,"elo":25,"ehi":26.6,"eend":26.1},
{"day":276,"lo":21.4,"hi":35.5,"end":23,"wlo":25,"whi":26.6,"wend":26.2,"elo":25,"ehi":26.6,"eend":26.1},
{"day":277,"lo":17.5,"hi":34.7,"end":20,"wlo":25,"whi":26.6,"wend":26.2,"elo":25,"ehi":26.6,"eend":26.1},
{"day":278,"lo":20.1,"hi":35.7,"end":22.5,"wlo":25,"whi":26.6,"wend":26.2,"elo":25,"ehi":26.6,"eend":26.1},
{"day":279,"lo":18.5,"hi":32,"end":20.5,"wlo":25,"whi":26.5,"wend":26.2,"elo":25,"ehi":26.5,"eend":26.1},
{"day":280,"lo":12.4,"hi":28.6,"end":16,"wlo":25,"whi":26.4,"wend":26.1,"elo":25,"ehi":26.4,"eend":26},
{"day":281,"lo":17.2,"hi":32.2,"end":19.5,"wlo":25,"whi":26.5,"wend":26.1,"elo":25,"ehi":26.5,"eend":26},
{"day":282,"lo":20.4,"hi":37.6,"end":22.5,"wlo":25,"whi":26.6,"wend":26.1,"elo":25,"ehi":26.6,"eend":26},
{"day":283,"lo":12.9,"hi":26,"end":15.5,"wlo":25,"whi":26.2,"wend":25.9,"elo":25,"ehi":26.2,"eend":25.8},
{"day":284,"lo":6.5,"hi":19,"end":10,"wlo":25,"whi":26.2,"wend":25.9,"elo":25,"ehi":26.2,"eend":25.8},
{"day":285,"lo":10.6,"hi":23,"end":13,"wlo":25,"whi":26.2,"wend":25.9,"elo":25,"ehi":26.2,"eend":25.8},
{"day":286,"lo":13.9,"hi":32.7,"end":16.5,"wlo":25,"whi":26.3,"wend":26,"elo":25,"ehi":26.3,"eend":25.9},
{"day":287,"lo":14.2,"hi":30.6,"end":16.5,"wlo":25,"whi":26.3,"wend":26,"elo":25,"ehi":26.3,"eend":25.9},
{"day":288,"lo":16.2,"hi":31.9,"end":18.5,"wlo":25,"whi":26.3,"wend":26,"elo":25,"ehi":26.3,"eend":25.9},
{"day":289,"lo":14.5,"hi":30.8,"end":17,"wlo":25,"whi":26.3,"wend":26,"elo":25,"ehi":26.3,"eend":25.9},
{"day":290,"lo":14.2,"hi":31.5,"end":16.5,"wlo":25,"whi":26.3,"wend":26,"elo":25,"ehi":26.3,"eend":25.9},
{"day":291,"lo":14.4,"hi":29.6,"end":16.5,"wlo":25,"whi":26.3,"wend":26,"elo":25,"ehi":26.2,"eend":25.9},
{"day":292,"lo":15.5,"hi":28.3,"end":17,"wlo":25,"whi":26.2,"wend":25.9,"elo":25,"ehi":26.2,"eend":25.8},
{"day":293,"lo":12.9,"hi":27,"end":15,"wlo":25,"whi":26.2,"wend":25.9,"elo":25,"ehi":26.2,"eend":25.8},
{"day":294,"lo":12.2,"hi":25.3,"end":14,"wlo":25,"whi":26.2,"wend":25.9,"elo":25,"ehi":26.2,"eend":25.8},
{"day":295,"lo":11.2,"hi":24,"end":13,"wlo":25,"whi":26.2,"wend":25.9,"elo":25,"ehi":26.1,"eend":25.8},
{"day":296,"lo":10.9,"hi":22.1,"end":12.5,"wlo":25,"whi":26.1,"wend":25.9,"elo":25,"ehi":26.1,"eend":25.8},
{"day":297,"lo":3.4,"hi":19.5,"end":7,"wlo":25,"whi":26.1,"wend":25.9,"elo":25,"ehi":26.1,"eend":25.8},
{"day":298,"lo":6.2,"hi":21.4,"end":8.5,"wlo":25,"whi":26.1,"wend":25.9,"elo":25,"ehi":26.1,"eend":25.8},
{"day":299,"lo":9.5,"hi":20,"end":11,"wlo":25,"whi":26.1,"wend":25.9,"elo":25,"ehi":26.1,"eend":25.8},
{"day":300,"lo":7.5,"hi":21.4,"end":9.5,"wlo":25,"whi":26.1,"wend":25.9,"elo":25,"ehi":26.1,"eend":25.8},
{"day":301,"lo":10,"hi":24.7,"end":12,"wlo":25,"whi":26.2,"wend":25.9,"elo":25,"ehi":26.2,"eend":25.8},
{"day":302,"lo":7.6,"hi":24.7,"end":10,"wlo":25,"whi":26.2,"wend":25.9,"elo":25,"ehi":26.2,"eend":25.8},
{"day":303,"lo":12.7,"hi":28.3,"end":14.5,"wlo":25,"whi":26.3,"wend":26,"elo":25,"ehi":26.3,"eend":25.9},
{"day":304,"lo":12.5,"hi":29.4,"end":14.5,"wlo":25,"whi":26.3,"wend":26,"elo":25,"ehi":26.3,"eend":25.9},
{"day":305,"lo":12.6,"hi":18.8,"end":13.5,"wlo":25,"whi":26.1,"wend":25.9,"elo":25,"ehi":26.1,"eend":25.8},
{"day":306,"lo":12.6,"hi":17.8,"end":13.5,"wlo":25,"whi":26.1,"wend":25.9,"elo":25,"ehi":26.1,"eend":25.8},
{"day":307,"lo":10.6,"hi":22.5,"end":12.5,"wlo":25,"whi":26.2,"wend":25.9,"elo":25,"ehi":26.1,"eend":25.8},
{"day":308,"lo":7,"hi":16.8,"end":9,"wlo":25,"whi":26.1,"wend":25.9,"elo":25,"ehi":26.1,"eend":25.8},
{"day":309,"lo":11.8,"hi":22.9,"end":13.5,"wlo":25,"whi":26.2,"wend":25.9,"elo":25,"ehi":26.2,"eend":25.8},
{"day":310,"lo":4.9,"hi":23.1,"end":8,"wlo":25,"whi":26.2,"wend":25.9,"elo":25,"ehi":26.2,"eend":25.8},
{"day":311,"lo":7.5,"hi":20.8,"end":9.5,"wlo":25,"whi":26.1,"wend":25.9,"elo":25,"ehi":26.1,"eend":25.8},
{"day":312,"lo":10.1,"hi":27.8,"end":12.5,"wlo":25,"whi":26.3,"wend":26,"elo":25,"ehi":26.3,"eend":25.9},
{"day":313,"lo":12.6,"hi":23.1,"end":14,"wlo":25,"whi":26.2,"wend":25.9,"elo":25,"ehi":26.2,"eend":25.8},
{"day":314,"lo":12.9,"hi":22,"end":14,"wlo":25,"whi":26.2,"wend":25.9,"elo":25,"ehi":26.1,"eend":25.8},
{"day":315,"lo":15,"hi":21.9,"end":16,"wlo":25,"whi":26.1,"wend":25.9,"elo":25,"ehi":26.1,"eend":25.8},
{"day":316,"lo":13.9,"hi":20.8,"end":15,"wlo":25,"whi":26.1,"wend":25.9,"elo":25,"ehi":26.1,"eend":25.8},
{"day":317,"lo":12.9,"hi":20.4,"end":14,"wlo":25,"whi":26.1,"wend":25.9,"elo":25,"ehi":26.1,"eend":25.8},
{"day":318,"lo":10.3,"hi":21,"end":12,"wlo":25,"whi":26.1,"wend":25.9,"elo":25,"ehi":26.1,"eend":25.8},
{"day":319,"lo":9.6,"hi":20.8,"end":11.5,"wlo":25,"whi":26.1,"wend":25.9,"elo":25,"ehi":26.1,"eend":25.8},
{"day":320,"lo":5.7,"hi":17.5,"end":8,"wlo":25,"whi":26.1,"wend":25.9,"elo":25,"ehi":26.1,"eend":25.8},
{"day":321,"lo":9.3,"hi":21.6,"end":11,"wlo":25,"whi":26.1,"wend":25.9,"elo":25,"ehi":26.1,"eend":25.8},
{"day":322,"lo":9.1,"hi":20.1,"end":10.5,"wlo":25,"whi":26.1,"wend":25.9,"elo":25,"ehi":26.1,"eend":25.8},
{"day":323,"lo":10.3,"hi":21,"end":12,"wlo":25,"whi":26.1,"wend":25.9,"elo":25,"ehi":26.1,"eend":25.8},
{"day":324,"lo":12.2,"hi":28,"end":14,"wlo":25,"whi":26.3,"wend":26,"elo":25,"ehi":26.3,"eend":25.9},
{"day":325,"lo":9.1,"hi":21.7,"end":11,"wlo":25,"whi":26.1,"wend":25.9,"elo":25,"ehi":26.1,"eend":25.8},
{"day":326,"lo":-1.5,"hi":12,"end":4,"wlo":25,"whi":26.1,"wend":25.9,"elo":25,"ehi":26.1,"eend":25.8},
{"day":327,"lo":3.1,"hi":20.6,"end":6.5,"wlo":25,"whi":26.1,"wend":25.9,"elo":25,"ehi":26.1,"eend":25.8},
{"day":328,"lo":9,"hi":19.4,"end":10.5,"wlo":25,"whi":26.1,"wend":25.9,"elo":25,"ehi":26.1,"eend":25.8},
{"day":329,"lo":10.3,"hi":19.9,"end":11.5,"wlo":25,"whi":26.1,"wend":25.9,"elo":25,"ehi":26.1,"eend":25.8},
{"day":330,"lo":7.1,"hi":24.4,"end":9.5,"wlo":25,"whi":26.2,"wend":25.9,"elo":25,"ehi":26.2,"eend":25.8},
{"day":331,"lo":8.2,"hi":21.7,"end":10,"wlo":25,"whi":26.1,"wend":25.9,"elo":25,"ehi":26.1,"eend":25.8},
{"day":332,"lo":7.6,"hi":21.6,"end":9.5,"wlo":25,"whi":26.1,"wend":25.9,"elo":25,"ehi":26.1,"eend":25.8},
{"day":333,"lo":7.8,"hi":24.4,"end":10,"wlo":25,"whi":26.2,"wend":25.9,"elo":25,"ehi":26.2,"eend":25.8},
{"day":334,"lo":6,"hi":25,"end":8.5,"wlo":25,"whi":26.2,"wend":25.9,"elo":25,"ehi":26.2,"eend":25.8},
{"day":335,"lo":9.5,"hi":20.6,"end":11,"wlo":25,"whi":26.1,"wend":25.9,"elo":25,"ehi":26.1,"eend":25.8},
{"day":336,"lo":6.7,"hi":20.6,"end":8.5,"wlo":25,"whi":26.1,"wend":25.9,"elo":25,"ehi":26.1,"eend":25.8},
{"day":337,"lo":3.1,"hi":18.5,"end":5.5,"wlo":25,"whi":26.1,"wend":25.9,"elo":25,"ehi":26.1,"eend":25.8},
{"day":338,"lo":-0.9,"hi":16.8,"end":2.5,"wlo":25,"whi":26.1,"wend":25.9,"elo":25,"ehi":26.1,"eend":25.8},
{"day":339,"lo":-3.5,"hi":16.2,"end":1,"wlo":25,"whi":26.1,"wend":25.9,"elo":25,"ehi":26.1,"eend":25.8},
{"day":340,"lo":-1.5,"hi":16.1,"end":2,"wlo":25,"whi":26.1,"wend":25.9,"elo":25,"ehi":26.1,"eend":25.8},
{"day":341,"lo":2,"hi":19.6,"end":4.5,"wlo":25,"whi":26.1,"wend":25.9,"elo":25,"ehi":26.1,"eend":25.8},
{"day":342,"lo":5.7,"hi":23.4,"end":8,"wlo":25,"whi":26.2,"wend":25.9,"elo":25,"ehi":26.2,"eend":25.8},
{"day":343,"lo":3.9,"hi":23.1,"end":6.5,"wlo":25,"whi":26.2,"wend":25.9,"elo":25,"ehi":26.2,"eend":25.8},
{"day":344,"lo":6.7,"hi":21.7,"end":8.5,"wlo":25,"whi":26.1,"wend":25.9,"elo":25,"ehi":26.1,"eend":25.8},
{"day":345,"lo":7,"hi":20.1,"end":8.5,"wlo":25,"whi":26.1,"wend":25.9,"elo":25,"ehi":26.1,"eend":25.8},
{"day":346,"lo":5.7,"hi":16.2,"end":7,"wlo":25,"whi":26.1,"wend":25.9,"elo":25,"ehi":26.1,"eend":25.8},
{"day":347,"lo":1.1,"hi":19.4,"end":4,"wlo":25,"whi":26.1,"wend":25.9,"elo":25,"ehi":26.1,"eend":25.8},
{"day":348,"lo":4.4,"hi":20.4,"end":6.5,"wlo":25,"whi":26.1,"wend":25.9,"elo":25,"ehi":26.1,"eend":25.8},
{"day":349,"lo":2.7,"hi":15.8,"end":5,"wlo":25,"whi":26.1,"wend":25.9,"elo":25,"ehi":26.1,"eend":25.8},
{"day":350,"lo":0.6,"hi":16.2,"end":3.5,"wlo":25,"whi":26.1,"wend":25.9,"elo":25,"ehi":26.1,"eend":25.8},
{"day":351,"lo":3.5,"hi":18.6,"end":5.5,"wlo":25,"whi":26.1,"wend":25.9,"elo":25,"ehi":26.1,"eend":25.8},
{"day":352,"lo":3.7,"hi":18.8,"end":6,"wlo":25,"whi":26.1,"wend":25.9,"elo":25,"ehi":26.1,"eend":25.8},
{"day":353,"lo":6.4,"hi":19.8,"end":8,"wlo":25,"whi":26.1,"wend":25.9,"elo":25,"ehi":26.1,"eend":25.8},
{"day":354,"lo":5.8,"hi":26.5,"end":8.5,"wlo":25,"whi":26.3,"wend":26,"elo":25,"ehi":26.3,"eend":25.9},
{"day":355,"lo":8.6,"hi":25.7,"end":10.5,"wlo":25,"whi":26.2,"wend":25.9,"elo":25,"ehi":26.2,"eend":25.8},
{"day":356,"lo":9.2,"hi":23.7,"end":11,"wlo":25,"whi":26.2,"wend":25.9,"elo":25,"ehi":26.2,"eend":25.8},
{"day":357,"lo":7.3,"hi":23.7,"end":9.5,"wlo":25,"whi":26.2,"wend":25.9,"elo":25,"ehi":26.2,"eend":25.8},
{"day":358,"lo":9.2,"hi":28.8,"end":11.5,"wlo":25,"whi":26.3,"wend":26,"elo":25,"ehi":26.3,"eend":25.9},
{"day":359,"lo":7.5,"hi":23.1,"end":9.5,"wlo":25,"whi":26.2,"wend":25.9,"elo":25,"ehi":26.2,"eend":25.8},
{"day":360,"lo":5.7,"hi":20.8,"end":8,"wlo":25,"whi":26.1,"wend":25.9,"elo":25,"ehi":26.1,"eend":25.8},
{"day":361,"lo":6.6,"hi":19.1,"end":8.5,"wlo":25,"whi":26.1,"wend":25.9,"elo":25,"ehi":26.1,"eend":25.8},
{"day":362,"lo":4.5,"hi":19.1,"end":6.5,"wlo":25,"whi":26.1,"wend":25.9,"elo":25,"ehi":26.1,"eend":25.8},
{"day":363,"lo":1.9,"hi":21.1,"end":5,"wlo":25,"whi":26.1,"wend":25.9,"elo":25,"ehi":26.1,"eend":25.8},
{"day":364,"lo":5.8,"hi":20.4,"end":6.5,"wlo":25,"whi":26.1,"wend":25.9,"elo":25,"ehi":26.1,"eend":25.8}
    ]
  },
  "spacing": 101,
  "resolve": {"scale": {"color": "independent"}},
  "vconcat": [
    {
      "title": {"text": "2ZoneDataCenterHVAC West Zone"},
      "width": 2937,
      "height": 663,
      "layer": [
        {
          "data": {"name": "hvac"},
          "transform": [
            {"window": [{"op": "lag", "field": "wend", "as": "wstart"}], "sort": [{"field": "day"}]},
            {"fold": ["wstart", "wlo", "whi", "wend"], "as": ["part", "temp"]},
            {"window": [{"op": "row_number", "as": "seq"}]}
          ],
          "mark": {"type": "line", "strokeWidth": 4.3, "strokeCap": "round", "strokeJoin": "round"},
          "encoding": {
            "x": {
              "field": "day", "type": "quantitative",
              "scale": {"domain": [-18.2, 382.2], "nice": false, "zero": false},
              "axis": {
                "title": null,
                "tickCount": 100,
                "values": [-15.5, 0, 15.5, 31, 45, 59, 74.5, 90, 105, 120, 135.5, 151, 166, 181, 196.5, 212, 227.5, 243, 258, 273, 288.5, 304, 319, 334, 349.5, 365, 380.5],
                "labelExpr": "indexof([0,31,59,90,120,151,181,212,243,273,304,334,365], datum.value) < 0 ? '' : ['Jan','Feb','Mar','Apr','May','Jun','Jul','Aug','Sep','Oct','Nov','Dec','Jan'][indexof([0,31,59,90,120,151,181,212,243,273,304,334,365], datum.value)]",
                "tickOpacity": {"condition": {"test": "indexof([0,31,59,90,120,151,181,212,243,273,304,334,365], datum.value) < 0", "value": 0}, "value": 1},
                "gridWidth": {"condition": {"test": "indexof([0,31,59,90,120,151,181,212,243,273,304,334,365], datum.value) < 0", "value": 2}, "value": 3.6},
                "labelPadding": 8
              }
            },
            "y": {
              "field": "temp", "type": "quantitative",
              "scale": {"domain": [-5.7, 45.65], "nice": false, "zero": false},
              "axis": {
                "title": "Temperature (ºC)",
                "tickCount": 100,
                "values": [-5, -2.5, 0, 2.5, 5, 7.5, 10, 12.5, 15, 16.5, 18, 19.5, 21, 22.5, 24, 25.5, 27, 30, 32.5, 35, 37.5, 40, 42.5, 45],
                "labelExpr": "((datum.value >= 15 && datum.value <= 27) ? (datum.value % 3 != 0) : (datum.value % 5 != 0)) ? '' : datum.value",
                "tickOpacity": {"condition": {"test": "(datum.value >= 15 && datum.value <= 27) ? (datum.value % 3 != 0) : (datum.value % 5 != 0)", "value": 0}, "value": 1},
                "gridWidth": {"condition": {"test": "(datum.value >= 15 && datum.value <= 27) ? (datum.value % 3 != 0) : (datum.value % 5 != 0)", "value": 2}, "value": 3.6},
                "labelPadding": 11,
                "titlePadding": 12
              }
            },
            "order": {"field": "seq", "type": "quantitative"},
            "color": {
              "datum": "Zone Air Temperature (West Zone)", "type": "nominal",
              "scale": {"domain": ["Outdoor Air Drybulb Temperature", "Zone Air Temperature (West Zone)"], "range": ["black", "#4ca64c"]}
            }
          }
        },
        {
          "data": {"name": "hvac"},
          "transform": [
            {"window": [{"op": "lag", "field": "end", "as": "start"}], "sort": [{"field": "day"}]},
            {"fold": ["start", "lo", "hi", "end"], "as": ["part", "temp"]},
            {"window": [{"op": "row_number", "as": "seq"}]}
          ],
          "mark": {"type": "line", "strokeWidth": 4.3, "strokeCap": "round", "strokeJoin": "round", "opacity": 0.4},
          "encoding": {
            "x": {"field": "day", "type": "quantitative"},
            "y": {"field": "temp", "type": "quantitative"},
            "order": {"field": "seq", "type": "quantitative"},
            "color": {"datum": "Outdoor Air Drybulb Temperature", "type": "nominal"}
          }
        },
        {
          "data": {"values": [{}]},
          "mark": {"type": "rule", "color": "#ff0000", "strokeDash": [19, 17], "strokeWidth": 4.5},
          "encoding": {"x": {"datum": -18.2, "type": "quantitative"}, "x2": {"datum": 364}, "y": {"datum": 27, "type": "quantitative"}}
        },
        {
          "data": {"values": [{}]},
          "mark": {"type": "rule", "color": "#0000ff", "strokeDash": [19, 17], "strokeWidth": 4.5},
          "encoding": {"x": {"datum": -18.2, "type": "quantitative"}, "x2": {"datum": 364}, "y": {"datum": 18, "type": "quantitative"}}
        }
      ]
    },
    {
      "title": {"text": "2ZoneDataCenterHVAC East Zone"},
      "width": 2937,
      "height": 663,
      "layer": [
        {
          "data": {"name": "hvac"},
          "transform": [
            {"window": [{"op": "lag", "field": "eend", "as": "estart"}], "sort": [{"field": "day"}]},
            {"fold": ["estart", "elo", "ehi", "eend"], "as": ["part", "temp"]},
            {"window": [{"op": "row_number", "as": "seq"}]}
          ],
          "mark": {"type": "line", "strokeWidth": 4.3, "strokeCap": "round", "strokeJoin": "round"},
          "encoding": {
            "x": {
              "field": "day", "type": "quantitative",
              "scale": {"domain": [-18.2, 382.2], "nice": false, "zero": false},
              "axis": {
                "title": null,
                "tickCount": 100,
                "values": [-15.5, 0, 15.5, 31, 45, 59, 74.5, 90, 105, 120, 135.5, 151, 166, 181, 196.5, 212, 227.5, 243, 258, 273, 288.5, 304, 319, 334, 349.5, 365, 380.5],
                "labelExpr": "indexof([0,31,59,90,120,151,181,212,243,273,304,334,365], datum.value) < 0 ? '' : ['Jan','Feb','Mar','Apr','May','Jun','Jul','Aug','Sep','Oct','Nov','Dec','Jan'][indexof([0,31,59,90,120,151,181,212,243,273,304,334,365], datum.value)]",
                "tickOpacity": {"condition": {"test": "indexof([0,31,59,90,120,151,181,212,243,273,304,334,365], datum.value) < 0", "value": 0}, "value": 1},
                "gridWidth": {"condition": {"test": "indexof([0,31,59,90,120,151,181,212,243,273,304,334,365], datum.value) < 0", "value": 2}, "value": 3.6},
                "labelPadding": 8
              }
            },
            "y": {
              "field": "temp", "type": "quantitative",
              "scale": {"domain": [-5.7, 45.65], "nice": false, "zero": false},
              "axis": {
                "title": "Temperature (ºC)",
                "tickCount": 100,
                "values": [-5, -2.5, 0, 2.5, 5, 7.5, 10, 12.5, 15, 16.5, 18, 19.5, 21, 22.5, 24, 25.5, 27, 30, 32.5, 35, 37.5, 40, 42.5, 45],
                "labelExpr": "((datum.value >= 15 && datum.value <= 27) ? (datum.value % 3 != 0) : (datum.value % 5 != 0)) ? '' : datum.value",
                "tickOpacity": {"condition": {"test": "(datum.value >= 15 && datum.value <= 27) ? (datum.value % 3 != 0) : (datum.value % 5 != 0)", "value": 0}, "value": 1},
                "gridWidth": {"condition": {"test": "(datum.value >= 15 && datum.value <= 27) ? (datum.value % 3 != 0) : (datum.value % 5 != 0)", "value": 2}, "value": 3.6},
                "labelPadding": 11,
                "titlePadding": 12
              }
            },
            "order": {"field": "seq", "type": "quantitative"},
            "color": {
              "datum": "Zone Air Temperature (East Zone)", "type": "nominal",
              "scale": {"domain": ["Outdoor Air Drybulb Temperature", "Zone Air Temperature (East Zone)"], "range": ["black", "#fdae6b"]}
            }
          }
        },
        {
          "data": {"name": "hvac"},
          "transform": [
            {"window": [{"op": "lag", "field": "end", "as": "start"}], "sort": [{"field": "day"}]},
            {"fold": ["start", "lo", "hi", "end"], "as": ["part", "temp"]},
            {"window": [{"op": "row_number", "as": "seq"}]}
          ],
          "mark": {"type": "line", "strokeWidth": 4.3, "strokeCap": "round", "strokeJoin": "round", "opacity": 0.4},
          "encoding": {
            "x": {"field": "day", "type": "quantitative"},
            "y": {"field": "temp", "type": "quantitative"},
            "order": {"field": "seq", "type": "quantitative"},
            "color": {"datum": "Outdoor Air Drybulb Temperature", "type": "nominal"}
          }
        },
        {
          "data": {"values": [{}]},
          "mark": {"type": "rule", "color": "#ff0000", "strokeDash": [19, 17], "strokeWidth": 4.5},
          "encoding": {"x": {"datum": -18.2, "type": "quantitative"}, "x2": {"datum": 364}, "y": {"datum": 27, "type": "quantitative"}}
        },
        {
          "data": {"values": [{}]},
          "mark": {"type": "rule", "color": "#0000ff", "strokeDash": [19, 17], "strokeWidth": 4.5},
          "encoding": {"x": {"datum": -18.2, "type": "quantitative"}, "x2": {"datum": 364}, "y": {"datum": 18, "type": "quantitative"}}
        }
      ]
    }
  ]
}
